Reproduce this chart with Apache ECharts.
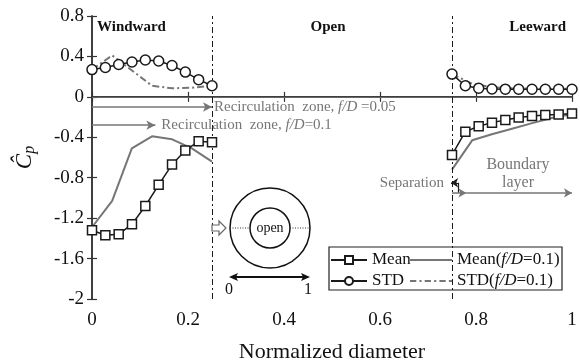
<!DOCTYPE html>
<html>
<head>
<meta charset="utf-8">
<script src="https://cdn.jsdelivr.net/npm/echarts@6/dist/echarts.min.js"></script>
<style>
  html, body { margin: 0; padding: 0; background: #fff; }
  #chart { width: 580px; height: 364px; }
</style>
</head>
<body>
<div id="chart"></div>
<script>
// Pressure coefficient along the normalized diameter (windward / open / leeward)
const xWind = [0, 0.0278, 0.0556, 0.0833, 0.1111, 0.1389, 0.1667, 0.1944, 0.2222, 0.25];
const xLee = [0.75, 0.7778, 0.8056, 0.8333, 0.8611, 0.8889, 0.9167, 0.9444, 0.9722, 1];

const meanWind = [-1.32, -1.37, -1.36, -1.26, -1.08, -0.87, -0.67, -0.53, -0.44, -0.45];
const meanLee = [-0.575, -0.345, -0.29, -0.255, -0.23, -0.205, -0.19, -0.18, -0.175, -0.165];
const stdWind = [0.27, 0.29, 0.32, 0.345, 0.365, 0.355, 0.31, 0.245, 0.17, 0.11];
const stdLee = [0.225, 0.11, 0.085, 0.078, 0.076, 0.075, 0.075, 0.075, 0.075, 0.075];

// f/D = 0.1 reference curves
const xFdWindMean = [0, 0.042, 0.083, 0.125, 0.167, 0.208, 0.25];
const meanFdWind = [-1.29, -1.03, -0.51, -0.39, -0.42, -0.51, -0.64];
const xFdWindStd = [0, 0.042, 0.125, 0.167, 0.208, 0.25];
const stdFdWind = [0.27, 0.41, 0.11, 0.085, 0.09, 0.11];
const xFdLee = [0.75, 0.792, 0.833, 0.875, 0.917, 0.958, 1];
const meanFdLee = [-0.72, -0.43, -0.37, -0.315, -0.26, -0.21, -0.17];
const stdFdLee = [0.225, 0.13, 0.095, 0.085, 0.08, 0.08, 0.08];

const xTicks = { min: 0, max: 1, interval: 0.2 };
const yTicks = { min: -2, max: 0.8, interval: 0.4 };

const serif = '"Liberation Serif", "Times New Roman", serif';
const black = '#1a1a1a';
const gray = '#767676';

const pairs = (xs, ys) => xs.map((x, i) => [x, ys[i]]);

const meanStyle = {
  type: 'line', name: 'Mean', symbol: 'rect', symbolSize: 9, z: 5,
  lineStyle: { color: black, width: 1.5 },
  itemStyle: { color: '#fff', borderColor: black, borderWidth: 1.5 }
};
const stdStyle = {
  type: 'line', name: 'STD', symbol: 'circle', symbolSize: 10, z: 5,
  lineStyle: { color: black, width: 1.5 },
  itemStyle: { color: '#fff', borderColor: black, borderWidth: 1.5 }
};
const meanFdStyle = {
  type: 'line', name: 'Mean(f/D=0.1)', symbol: 'none', z: 3,
  lineStyle: { color: gray, width: 2 }, itemStyle: { color: gray }
};
const stdFdStyle = {
  type: 'line', name: 'STD(f/D=0.1)', symbol: 'none', z: 3,
  lineStyle: { color: gray, width: 2, type: [7, 3, 2, 3] }, itemStyle: { color: gray }
};

const rich = {
  i: { fontStyle: 'italic', fontFamily: serif, fontSize: 15, color: gray }
};
const arrowLine = { color: gray, width: 1.5, type: 'solid' };

const series = [
  Object.assign({}, meanFdStyle, { data: pairs(xFdWindMean, meanFdWind) }),
  Object.assign({}, meanFdStyle, { data: pairs(xFdLee, meanFdLee) }),
  Object.assign({}, stdFdStyle, { data: pairs(xFdWindStd, stdFdWind) }),
  Object.assign({}, stdFdStyle, { data: pairs(xFdLee, stdFdLee) }),
  Object.assign({}, meanStyle, { data: pairs(xWind, meanWind) }),
  Object.assign({}, meanStyle, { data: pairs(xLee, meanLee) }),
  Object.assign({}, stdStyle, { data: pairs(xWind, stdWind) }),
  Object.assign({}, stdStyle, { data: pairs(xLee, stdLee) }),
  {
    // reference lines and zone arrows
    type: 'line', name: 'guides', data: [], z: 2,
    markLine: {
      silent: true, symbol: 'none', animation: false,
      label: { show: false },
      data: [
        { yAxis: 0, lineStyle: { color: '#666', width: 1, type: 'solid' } },
        { xAxis: 0.25, lineStyle: { color: black, width: 1, type: [6, 3, 2, 3] } },
        { xAxis: 0.75, lineStyle: { color: black, width: 1, type: [6, 3, 2, 3] } },
        [
          { coord: [0, -0.1], symbol: 'none', lineStyle: arrowLine,
            label: { show: true, position: 'end', distance: 2, color: gray, fontFamily: serif, fontSize: 15,
                     formatter: 'Recirculation  zone, {i|f/D} =0.05', rich: rich } },
          { coord: [0.25, -0.1], symbol: 'arrow', symbolSize: [7, 9] }
        ],
        [
          { coord: [0, -0.28], symbol: 'none', lineStyle: arrowLine,
            label: { show: true, position: 'end', distance: 6, color: gray, fontFamily: serif, fontSize: 15,
                     formatter: 'Recirculation  zone, {i|f/D}=0.1', rich: rich } },
          { coord: [0.132, -0.28], symbol: 'arrow', symbolSize: [7, 9] }
        ],
        [
          { coord: [0.763, -0.95], symbol: 'none', lineStyle: { color: black, width: 1.2, type: 'solid' } },
          { coord: [0.763, -0.85], symbol: 'none' }
        ],
        [
          { coord: [0.763, -0.85], symbol: 'none', lineStyle: { color: black, width: 1.2, type: 'solid' } },
          { coord: [0.748, -0.85], symbol: 'arrow', symbolSize: [7, 7] }
        ],
        [
          { coord: [0.75, -0.95], symbol: 'none', lineStyle: arrowLine },
          { coord: [0.78, -0.95], symbol: 'arrow', symbolSize: [7, 8] }
        ],
        [
          { coord: [0.78, -0.95], symbol: 'none', lineStyle: arrowLine },
          { coord: [1, -0.95], symbol: 'arrow', symbolSize: [7, 8] }
        ]
      ]
    }
  }
];

const axisLine = { show: true, lineStyle: { color: '#333', width: 1.5 } };
const axisTick = { show: true, inside: true, length: 5, lineStyle: { color: '#333', width: 1.2 } };

function txt(text, x, y, font, fill, align) {
  return {
    type: 'text', x: x, y: y, z: 10,
    style: { text: text, font: font, fill: fill, textAlign: align || 'center', align: align || 'center',
             textVerticalAlign: 'middle', verticalAlign: 'middle' }
  };
}

const graphics = [
  txt('Windward', 97, 27, 'bold 15px ' + serif, '#111', 'left'),
  txt('Open', 328, 27, 'bold 15px ' + serif, '#111', 'center'),
  txt('Leeward', 566, 27, 'bold 15px ' + serif, '#111', 'right'),
  txt('Separation', 444, 183, '15px ' + serif, gray, 'right'),
  txt('Boundary', 518, 165, '16px ' + serif, gray, 'center'),
  txt('layer', 518, 183, '16px ' + serif, gray, 'center'),
  // inset sketch of the open cross-section
  { type: 'circle', z: 10, shape: { cx: 270, cy: 228, r: 40 }, style: { fill: 'none', stroke: '#111', lineWidth: 1.5 } },
  { type: 'circle', z: 10, shape: { cx: 270, cy: 228, r: 20 }, style: { fill: '#fff', stroke: '#111', lineWidth: 1.5 } },
  { type: 'line', z: 10, shape: { x1: 230, y1: 228, x2: 250, y2: 228 }, style: { stroke: '#333', lineWidth: 1, lineDash: [1, 1.5] } },
  { type: 'line', z: 10, shape: { x1: 290, y1: 228, x2: 310, y2: 228 }, style: { stroke: '#333', lineWidth: 1, lineDash: [1, 1.5] } },
  txt('open', 270, 228, '14px ' + serif, '#111', 'center'),
  { type: 'polygon', z: 10, shape: { points: [[212, 225], [219, 225], [219, 221], [226, 228], [219, 235], [219, 231], [212, 231]] },
    style: { fill: '#fff', stroke: '#666', lineWidth: 1.2 } },
  { type: 'line', z: 10, shape: { x1: 234, y1: 277, x2: 305, y2: 277 }, style: { stroke: '#111', lineWidth: 1.8 } },
  { type: 'polygon', z: 10, shape: { points: [[229, 277], [238, 273], [236, 277], [238, 281]] }, style: { fill: '#111' } },
  { type: 'polygon', z: 10, shape: { points: [[310, 277], [301, 273], [303, 277], [301, 281]] }, style: { fill: '#111' } },
  txt('0', 229, 290, '16px ' + serif, '#111', 'center'),
  txt('1', 308, 290, '16px ' + serif, '#111', 'center'),
  // legend frame
  { type: 'rect', z: 3, shape: { x: 329, y: 247, width: 233, height: 43 }, style: { fill: '#fff', stroke: '#222', lineWidth: 1.2 } }
];

const legendText = { fontFamily: serif, fontSize: 17, color: '#111', lineHeight: 18,
  rich: { i: { fontStyle: 'italic', fontFamily: serif, fontSize: 17, color: '#111' } } };
const legendFmt = name => name.replace('f/D', '{i|f/D}');

// plain-line legend icons for the f/D = 0.1 curves
const solidIcon = 'path://M0,0h40v2h-40z';
const dashDotIcon = 'path://M0,0h6v2h-6z M9,0h2v2h-2z M14,0h6v2h-6z M23,0h2v2h-2z M28,0h6v2h-6z M37,0h3v2h-3z';

const option = {
  animation: false,
  backgroundColor: '#fff',
  grid: { left: 92, right: 8, top: 16, bottom: 65, outerBoundsMode: 'none', containLabel: false },
  legend: [
    { data: ['Mean', 'STD'], orient: 'vertical', left: 325, top: 246, itemWidth: 36, itemHeight: 10, itemGap: 3,
      textStyle: legendText, formatter: legendFmt, z: 5 },
    { data: [
        { name: 'Mean(f/D=0.1)', icon: solidIcon, itemStyle: { color: gray } },
        { name: 'STD(f/D=0.1)', icon: dashDotIcon, itemStyle: { color: gray } }
      ],
      orient: 'vertical', left: 405, top: 246, itemWidth: 42, itemHeight: 10, itemGap: 3,
      textStyle: legendText, formatter: legendFmt, z: 5 }
  ],
  xAxis: [
    Object.assign({ type: 'value', position: 'bottom', axisLine: axisLine, axisTick: axisTick, splitLine: { show: false },
      name: 'Normalized diameter', nameLocation: 'middle', nameGap: 42,
      nameTextStyle: { fontFamily: serif, fontSize: 22, color: '#111' },
      axisLabel: { fontFamily: serif, fontSize: 19, color: '#111', margin: 12 } }, xTicks),
    Object.assign({ type: 'value', position: 'top', axisLine: axisLine, axisTick: axisTick, splitLine: { show: false },
      axisLabel: { show: false } }, xTicks)
  ],
  yAxis: [
    Object.assign({ type: 'value', position: 'left', axisLine: axisLine, axisTick: axisTick, splitLine: { show: false },
      name: '{c|Ĉ}{p|p}', nameLocation: 'middle', nameGap: 54,
      nameTextStyle: { rich: {
        c: { fontFamily: serif, fontStyle: 'italic', fontSize: 23, color: '#111' },
        p: { fontFamily: serif, fontStyle: 'italic', fontSize: 16, color: '#111', padding: [10, 0, 0, 0] }
      } },
      axisLabel: { fontFamily: serif, fontSize: 19, color: '#111', margin: 8 } }, yTicks),
    Object.assign({ type: 'value', position: 'right', axisLine: axisLine, axisTick: axisTick, splitLine: { show: false },
      axisLabel: { show: false } }, yTicks)
  ],
  graphic: graphics,
  series: series
};

const chart = echarts.init(document.getElementById('chart'), null, { renderer: 'canvas' });
chart.setOption(option);
</script>
</body>
</html>
